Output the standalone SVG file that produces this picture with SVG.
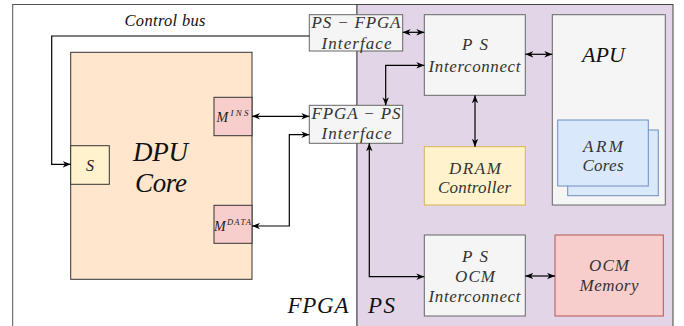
<svg xmlns="http://www.w3.org/2000/svg" width="684" height="326" viewBox="0 0 684 326">
<defs>
<marker id="ah" viewBox="0 0 10 8" refX="10" refY="4" markerWidth="8" markerHeight="7" markerUnits="userSpaceOnUse" orient="auto-start-reverse">
<path d="M0,0 L10,4 L0,8 L3,4 Z" fill="#000"/>
</marker>
</defs>
<style>
text{font-family:"Liberation Serif","DejaVu Serif",serif;font-style:italic;text-anchor:middle;fill:#333;}
.lbl{font-size:17px;}
.big{font-size:27px;fill:#111;}
.gray{fill:#f5f5f5;stroke:#666;stroke-width:1;}
.con{fill:none;stroke:#000;stroke-width:1.2;marker-start:url(#ah);marker-end:url(#ah);}
.one{fill:none;stroke:#000;stroke-width:1.2;marker-end:url(#ah);}
</style>
<rect x="0" y="0" width="684" height="326" fill="#fff"/>
<g id="fpga">
<rect x="12.7" y="4.5" width="344.3" height="340" fill="#fff" stroke="#555" stroke-width="1"/>
<text x="318" y="313" style="font-size:23px;fill:#111" textLength="61" lengthAdjust="spacing">FPGA</text>
</g>
<g id="ps">
<rect x="357" y="4.5" width="316" height="340" fill="#e1d5e7" stroke="#444" stroke-width="1"/>
<text x="381.5" y="313" style="font-size:23px;fill:#111" textLength="27" lengthAdjust="spacing">PS</text>
</g>
<g id="dpu">
<rect x="70.7" y="52.3" width="181.3" height="227" fill="#ffe6cc" stroke="#333" stroke-width="1"/>
<text class="big" x="160.5" y="161" textLength="55" lengthAdjust="spacing">DPU</text>
<text class="big" x="161" y="192" textLength="52" lengthAdjust="spacing">Core</text>
</g>
<g id="s">
<rect x="70.7" y="145.7" width="38.6" height="38.6" fill="#fff2cc" stroke="#333" stroke-width="1"/>
<text x="90" y="170.5" style="font-size:16px;fill:#222">S</text>
</g>
<g id="mins">
<rect x="214" y="97.3" width="38" height="38.4" fill="#f8cecc" stroke="#333" stroke-width="1"/>
<text x="232.5" y="122" style="font-size:14px;fill:#222" textLength="32" lengthAdjust="spacing">M<tspan font-size="9" dy="-6">INS</tspan></text>
</g>
<g id="mdata">
<rect x="214" y="205.3" width="38" height="38" fill="#f8cecc" stroke="#333" stroke-width="1"/>
<text x="232.5" y="230.5" style="font-size:14px;fill:#222" textLength="37" lengthAdjust="spacing">M<tspan font-size="8.5" dy="-6">DATA</tspan></text>
</g>
<g id="ps-fpga-if">
<rect class="gray" x="309.3" y="14.7" width="93.4" height="36.3"/>
<text class="lbl" x="356" y="28" textLength="89" lengthAdjust="spacing">PS − FPGA</text>
<text class="lbl" x="356.5" y="48.5" textLength="70" lengthAdjust="spacing">Interface</text>
</g>
<g id="fpga-ps-if">
<rect class="gray" x="309.3" y="105.3" width="93.4" height="38"/>
<text class="lbl" x="356" y="118.5" textLength="89" lengthAdjust="spacing">FPGA − PS</text>
<text class="lbl" x="356.5" y="139" textLength="70" lengthAdjust="spacing">Interface</text>
</g>
<g id="ps-interconnect">
<rect class="gray" x="424.3" y="14.7" width="101" height="80.6"/>
<text class="lbl" x="475" y="50" textLength="26" lengthAdjust="spacing">PS</text>
<text class="lbl" x="474.5" y="71.5" textLength="92" lengthAdjust="spacing">Interconnect</text>
</g>
<g id="dram">
<rect x="424.3" y="146.7" width="101" height="58.3" fill="#fff2cc" stroke="#d6b656" stroke-width="1"/>
<text class="lbl" x="475" y="173.5" textLength="52" lengthAdjust="spacing">DRAM</text>
<text class="lbl" x="474.5" y="193" textLength="73" lengthAdjust="spacing">Controller</text>
</g>
<g id="apu">
<rect class="gray" x="552.3" y="14.7" width="113" height="190.3"/>
<text x="603.5" y="62" style="font-size:22px;fill:#111" textLength="43" lengthAdjust="spacing">APU</text>
</g>
<g id="arm-cores">
<rect x="567.7" y="130" width="90.6" height="65.7" fill="#dae8fc" stroke="#6c8ebf" stroke-width="1"/>
<rect x="557.7" y="120" width="90.6" height="66" fill="#dae8fc" stroke="#6c8ebf" stroke-width="1"/>
<text class="lbl" x="603" y="151.5" textLength="40" lengthAdjust="spacing">ARM</text>
<text class="lbl" x="603" y="170.5" textLength="41" lengthAdjust="spacing">Cores</text>
</g>
<g id="ps-ocm-interconnect">
<rect class="gray" x="424.3" y="235" width="101" height="81"/>
<text class="lbl" x="475" y="262" textLength="26" lengthAdjust="spacing">PS</text>
<text class="lbl" x="475" y="282" textLength="40" lengthAdjust="spacing">OCM</text>
<text class="lbl" x="474.5" y="301.5" textLength="92" lengthAdjust="spacing">Interconnect</text>
</g>
<g id="ocm-memory">
<rect x="555" y="235" width="108.3" height="81" fill="#f8cecc" stroke="#b85450" stroke-width="1"/>
<text class="lbl" x="609" y="270.5" textLength="40" lengthAdjust="spacing">OCM</text>
<text class="lbl" x="609" y="290.5" textLength="59" lengthAdjust="spacing">Memory</text>
</g>
<g id="connectors">
<path class="one" d="M309.3,36 H51.7 V164.3 H70.7"/>
<text x="165" y="26" style="font-size:16.5px;fill:#111" textLength="81" lengthAdjust="spacing">Control bus</text>
<path class="con" d="M252,116.3 H309.3"/>
<path class="con" d="M309.3,134.7 H289.3 V226 H252"/>
<path class="con" d="M402.7,32.3 H424.3"/>
<path class="con" d="M525.3,54.3 H552.3"/>
<path class="con" d="M424.3,65.3 H385.7 V105.3"/>
<path class="con" d="M475,95.3 V146.7"/>
<path class="con" d="M369.3,143.3 V276.7 H424.3"/>
<path class="con" d="M525.3,276 H555"/>
</g>
</svg>
